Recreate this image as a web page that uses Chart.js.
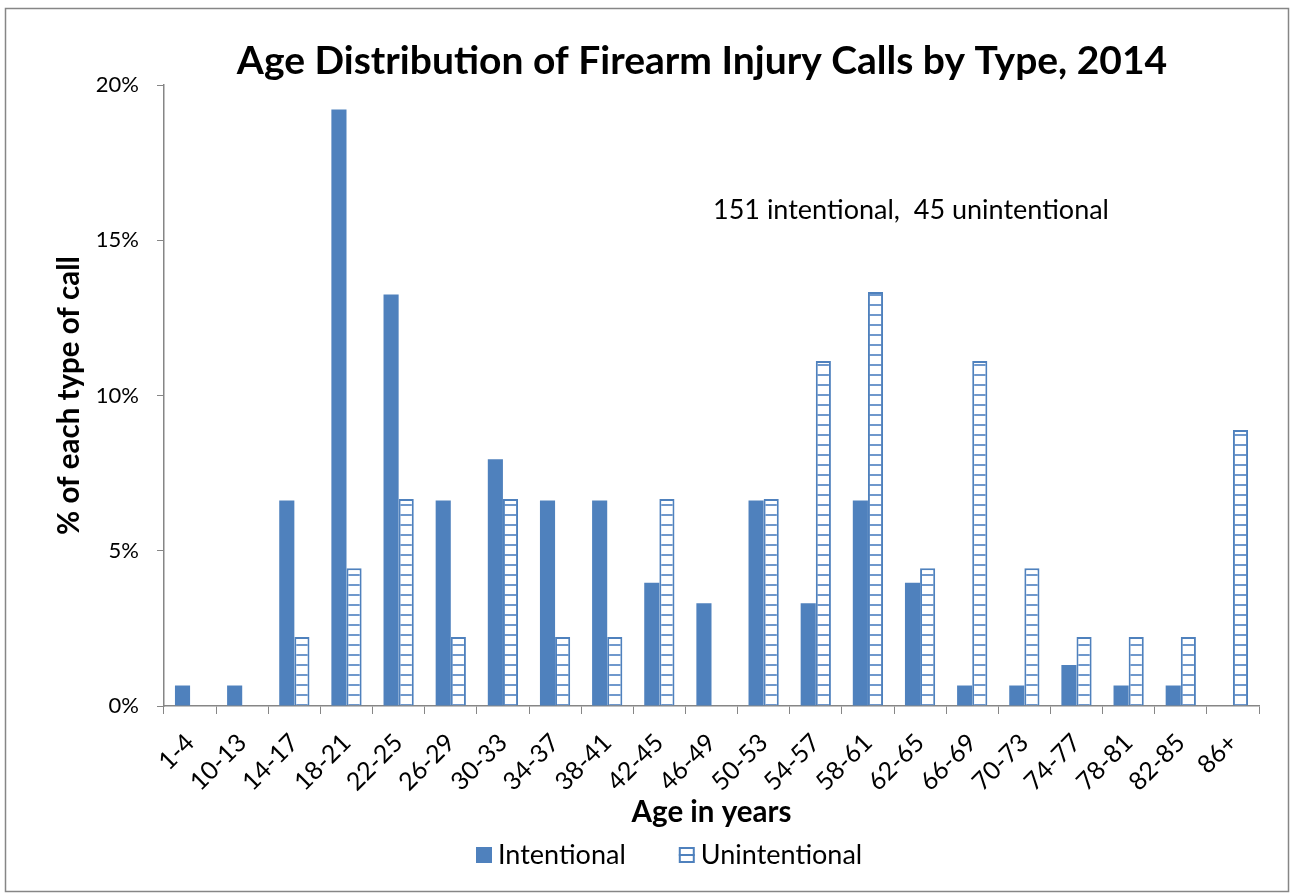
<!DOCTYPE html>
<html>
<head>
<meta charset="utf-8">
<script src="https://cdn.jsdelivr.net/npm/chart.js@4.4.1/dist/chart.umd.min.js"></script>
<style>
  html, body { margin: 0; padding: 0; background: #ffffff; }
  #wrap { width: 1291px; height: 894px; position: relative; }
</style>
</head>
<body>
<div id="wrap"><canvas id="c" width="1291" height="894"></canvas></div>
<script>
// Age groups (x axis)
const ageGroups = ['1-4', '10-13', '14-17', '18-21', '22-25', '26-29', '30-33', '34-37', '38-41',
  '42-45', '46-49', '50-53', '54-57', '58-61', '62-65', '66-69', '70-73', '74-77', '78-81', '82-85', '86+'];

// Share of each call type falling in each age group (%)
const intentional = [0.66, 0.66, 6.62, 19.21, 13.25, 6.62, 7.95, 6.62, 6.62,
  3.97, 3.31, 6.62, 3.31, 6.62, 3.97, 0.66, 0.66, 1.32, 0.66, 0.66, 0];
const unintentional = [0, 0, 2.22, 4.44, 6.67, 2.22, 6.67, 2.22, 2.22,
  6.67, 0, 6.67, 11.11, 13.33, 4.44, 11.11, 4.44, 2.22, 2.22, 2.22, 8.89];

const yTicks = [0, 5, 10, 15, 20];
const titleText = 'Age Distribution of Firearm Injury Calls by Type, 2014';
const noteText = '151 intentional,  45 unintentional';

const BLUE = '#4F81BD';
const AXIS = '#868686';
const FONT = 'Lato, "Open Sans", sans-serif';

// Horizontal-stripe fill for the unintentional series
function stripePattern() {
  const p = document.createElement('canvas');
  p.width = 8; p.height = 10;
  const g = p.getContext('2d');
  g.fillStyle = '#ffffff';
  g.fillRect(0, 0, 8, 10);
  g.fillStyle = '#6f98cc';
  g.fillRect(0, 4, 8, 2);
  return g.createPattern(p, 'repeat');
}

// Outer frame, heading, count note and a compact legend under the axis title
const extras = {
  id: 'extras',
  afterDraw(chart) {
    const ctx = chart.ctx;
    const a = chart.chartArea;
    ctx.save();
    ctx.strokeStyle = AXIS;
    ctx.lineWidth = 1.5;
    ctx.strokeRect(5.5, 8.5, 1283, 883);

    ctx.fillStyle = '#000';
    ctx.textBaseline = 'middle';
    ctx.textAlign = 'center';
    ctx.font = 'bold 39px ' + FONT;
    ctx.fillText(titleText, a.left + 538, 61);

    ctx.textAlign = 'left';
    ctx.font = '27px ' + FONT;
    ctx.fillText(noteText, a.left + 549, a.top + 125);

    // legend
    const items = chart.data.datasets;
    const y = 855;
    let x = 476;
    const box = 16;
    items.forEach((ds) => {
      ctx.fillStyle = ds.backgroundColor;
      ctx.fillRect(x, y - box / 2, box, box);
      if (ds.borderWidth) {
        ctx.strokeStyle = ds.borderColor;
        ctx.lineWidth = 2;
        ctx.strokeRect(x + 1, y - box / 2 + 1, box - 2, box - 2);
        ctx.fillStyle = ds.borderColor;
        ctx.fillRect(x + 1, y - 1, box - 2, 2);
      }
      ctx.fillStyle = '#000';
      ctx.font = '27px ' + FONT;
      ctx.fillText(ds.label, x + box + 6, y);
      x += box + 6 + ctx.measureText(ds.label).width + 53;
    });
    ctx.restore();
  }
};

new Chart(document.getElementById('c'), {
  type: 'bar',
  data: {
    labels: ageGroups,
    datasets: [
      {
        label: 'Intentional',
        data: intentional,
        backgroundColor: BLUE,
        borderColor: BLUE,
        borderWidth: 0,
        categoryPercentage: 0.58,
        barPercentage: 1.0
      },
      {
        label: 'Unintentional',
        data: unintentional,
        backgroundColor: stripePattern(),
        borderColor: BLUE,
        borderWidth: 2,
        categoryPercentage: 0.58,
        barPercentage: 1.0
      }
    ]
  },
  options: {
    responsive: false,
    animation: false,
    devicePixelRatio: 1,
    layout: { padding: { left: 52, right: 32, top: 85, bottom: 64 } },
    plugins: {
      title: { display: false },
      legend: { display: false },
      tooltip: { enabled: false }
    },
    scales: {
      x: {
        grid: {
          display: true,
          drawOnChartArea: false,
          drawTicks: true,
          tickLength: 8,
          color: AXIS,
          offset: true
        },
        border: { display: true, color: AXIS, width: 1.5 },
        ticks: {
          color: '#000',
          font: { family: FONT, size: 25 },
          maxRotation: 45,
          minRotation: 45,
          autoSkip: false,
          padding: 14
        },
        title: {
          display: true,
          text: 'Age in years',
          color: '#000',
          font: { family: FONT, size: 29.5, weight: 'bold' },
          padding: { top: 0, bottom: 0 }
        },
        afterFit(s) { s.height = 124; s.paddingLeft = 0; s.paddingRight = 0; }
      },
      y: {
        min: 0,
        max: 20,
        afterBuildTicks(s) { s.ticks = yTicks.map(v => ({ value: v })); },
        grid: {
          display: true,
          drawOnChartArea: false,
          drawTicks: true,
          tickLength: 7,
          color: AXIS
        },
        border: { display: true, color: AXIS, width: 1.5 },
        ticks: {
          color: '#000',
          font: { family: FONT, size: 22 },
          padding: 18,
          callback: v => v + '%'
        },
        title: {
          display: true,
          text: '% of each type of call',
          color: '#000',
          font: { family: FONT, size: 29.5, weight: 'bold' },
          padding: 0
        },
        afterFit(s) { s.width = 112; s.paddingTop = 0; s.paddingBottom = 0; }
      }
    }
  },
  plugins: [extras]
});
</script>
</body>
</html>
